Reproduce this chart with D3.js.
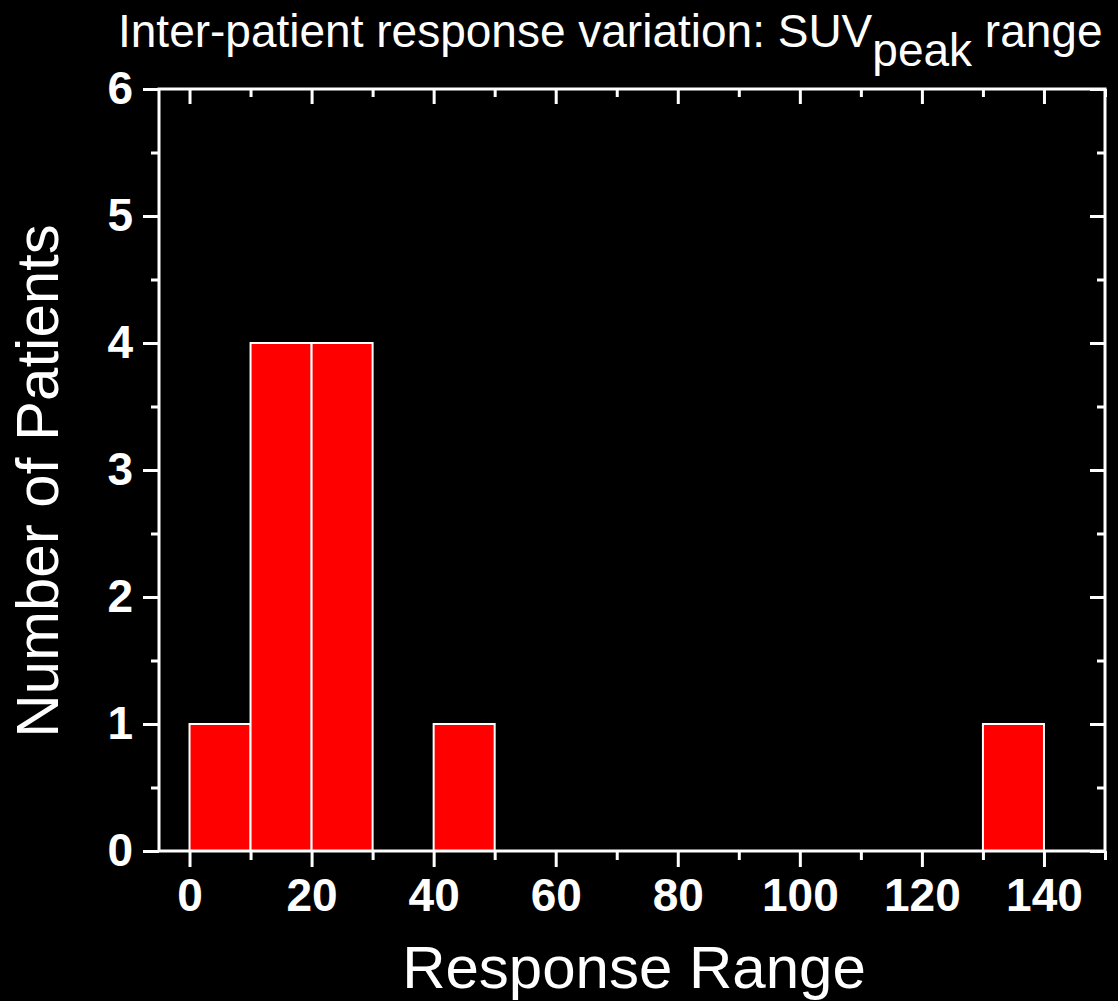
<!DOCTYPE html>
<html>
<head>
<meta charset="utf-8">
<script src="https://cdn.jsdelivr.net/npm/d3@7"></script>
<style>
  html, body { margin: 0; padding: 0; background: #000; }
  svg { display: block; }
</style>
</head>
<body>
<div id="chart"></div>
<script>
// histogram bins (lower edge, upper edge) and counts
var binStart = [0, 10, 20, 40, 130];
var binEnd   = [10, 20, 30, 50, 140];
var counts   = [1, 4, 4, 1, 1];

var xTicks = [0, 20, 40, 60, 80, 100, 120, 140];
var yTicks = [0, 1, 2, 3, 4, 5, 6];

var width = 1118, height = 1001;
var margin = { left: 159, right: 13, top: 89, bottom: 150 };

var svg = d3.select('#chart').append('svg')
  .attr('width', width)
  .attr('height', height)
  .style('background', '#000');

var x = d3.scaleLinear().domain([-5, 150]).range([margin.left, width - margin.right]);
var y = d3.scaleLinear().domain([0, 6]).range([height - margin.bottom, margin.top]);

// bars
svg.append('g').selectAll('rect')
  .data(counts)
  .enter().append('rect')
  .attr('x', function (d, i) { return x(binStart[i]); })
  .attr('y', function (d) { return y(d); })
  .attr('width', function (d, i) { return x(binEnd[i]) - x(binStart[i]); })
  .attr('height', function (d) { return y(0) - y(d); })
  .attr('fill', '#ff0000')
  .attr('stroke', '#fff')
  .attr('stroke-width', 2);

function minorX () { return d3.range(-0, 151, 10).filter(function (v) { return v % 20 !== 0; }); }
function minorY () { return d3.range(0.5, 6, 1); }

var font = '"Liberation Sans", Arial, sans-serif';

function styleAxis (g) {
  g.select('.domain').remove();
  g.selectAll('line').attr('stroke', '#fff').attr('stroke-width', 3);
  g.selectAll('text').attr('fill', '#fff')
    .style('font-family', font)
    .style('font-weight', 'bold')
    .style('font-size', '46px');
}

// bottom (outward ticks)
svg.append('g')
  .attr('transform', 'translate(0,' + y(0) + ')')
  .call(d3.axisBottom(x).tickValues(xTicks).tickSize(16).tickPadding(11).tickFormat(d3.format('d')))
  .call(styleAxis);
svg.append('g')
  .attr('transform', 'translate(0,' + y(0) + ')')
  .call(d3.axisBottom(x).tickValues(minorX()).tickSize(9).tickFormat(''))
  .call(styleAxis);

// top (inward)
svg.append('g')
  .attr('transform', 'translate(0,' + y(6) + ')')
  .call(d3.axisBottom(x).tickValues(xTicks).tickSize(15).tickFormat(''))
  .call(styleAxis);
svg.append('g')
  .attr('transform', 'translate(0,' + y(6) + ')')
  .call(d3.axisBottom(x).tickValues(minorX()).tickSize(8).tickFormat(''))
  .call(styleAxis);

// left (outward)
svg.append('g')
  .attr('transform', 'translate(' + x(-5) + ',0)')
  .call(d3.axisLeft(y).tickValues(yTicks).tickSize(16).tickPadding(10).tickFormat(d3.format('d')))
  .call(styleAxis);
svg.append('g')
  .attr('transform', 'translate(' + x(-5) + ',0)')
  .call(d3.axisLeft(y).tickValues(minorY()).tickSize(8).tickFormat(''))
  .call(styleAxis);

// right (inward)
svg.append('g')
  .attr('transform', 'translate(' + x(150) + ',0)')
  .call(d3.axisLeft(y).tickValues(yTicks).tickSize(15).tickFormat(''))
  .call(styleAxis);
svg.append('g')
  .attr('transform', 'translate(' + x(150) + ',0)')
  .call(d3.axisLeft(y).tickValues(minorY()).tickSize(8).tickFormat(''))
  .call(styleAxis);

// frame
svg.append('rect')
  .attr('x', x(-5)).attr('y', y(6))
  .attr('width', x(150) - x(-5)).attr('height', y(0) - y(6))
  .attr('fill', 'none').attr('stroke', '#fff').attr('stroke-width', 3);

svg.append('text')
  .attr('x', 634)
  .attr('y', 988)
  .attr('text-anchor', 'middle')
  .attr('fill', '#fff')
  .style('font-family', font)
  .style('font-size', '60px')
  .text('Response Range');

svg.append('text')
  .attr('transform', 'translate(58,' + 481 + ') rotate(-90)')
  .attr('text-anchor', 'middle')
  .attr('fill', '#fff')
  .style('font-family', font)
  .style('font-size', '60px')
  .text('Number of Patients');

var title = svg.append('text')
  .attr('x', 118)
  .attr('y', 47)
  .attr('fill', '#fff')
  .style('font-family', font)
  .style('font-size', '46px');
title.append('tspan').text('Inter-patient response variation: SUV');
title.append('tspan').attr('dy', 19).text('peak');
title.append('tspan').attr('dy', -19).text(' range');
</script>
</body>
</html>
